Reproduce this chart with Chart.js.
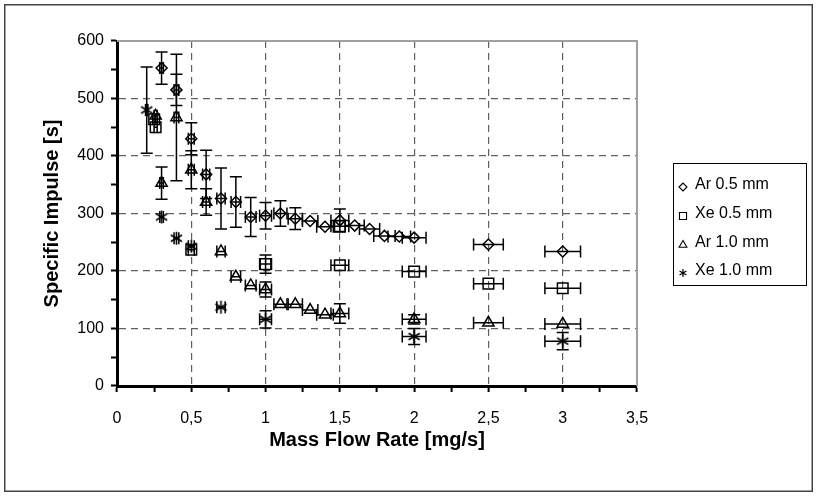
<!DOCTYPE html>
<html>
<head>
<meta charset="utf-8">
<script src="https://cdn.jsdelivr.net/npm/chart.js@4/dist/chart.umd.min.js"></script>
<style>
html,body{margin:0;padding:0;background:#fff;}
#wrap{position:relative;width:817px;height:496px;}
canvas{display:block;}
</style>
</head>
<body>
<div id="wrap"><canvas id="c" width="817" height="496"></canvas></div>
<script>
// ---------- data ----------
const seriesNames = ['Ar 0.5 mm', 'Xe 0.5 mm', 'Ar 1.0 mm', 'Xe 1.0 mm'];

const ar05X    = [0.3, 0.4, 0.5, 0.6, 0.7, 0.8, 0.9, 1.0, 1.1, 1.2, 1.3, 1.4, 1.5, 1.6, 1.7, 1.8, 1.9, 2.0, 2.5, 3.0];
const ar05Y    = [553, 515, 430, 368, 326, 320, 294, 296, 300, 291, 287, 277, 288, 279, 273, 261, 260, 258, 246, 234];
const ar05YErr = [28, 27, 28, 42, 53, 44, 34, 23, 22, 19, 0, 0, 20, 0, 0, 0, 0, 0, 0, 0];

const xe05X    = [0.25, 0.26, 0.5, 1.0, 1.5, 1.5, 2.0, 2.5, 3.0];
const xe05Y    = [464, 450, 237, 212, 278, 210, 199, 178, 170];
const xe05YErr = [0, 0, 0, 16, 0, 0, 0, 0, 0];

const ar10X    = [0.26, 0.3, 0.4, 0.5, 0.6, 0.7, 0.8, 0.9, 1.0, 1.1, 1.2, 1.3, 1.4, 1.5, 2.0, 2.5, 3.0];
const ar10Y    = [470, 353, 467, 376, 320, 234, 190, 175, 168, 142, 142, 132, 124, 126, 116, 110, 108];
const ar10YErr = [0, 28, 110, 33, 23, 0, 0, 0, 13, 0, 0, 0, 0, 17, 8, 0, 0];

const xe10X    = [0.2, 0.3, 0.4, 0.5, 0.7, 1.0, 2.0, 3.0];
const xe10Y    = [480, 294, 257, 243, 137, 116, 86, 78];
const xe10YErr = [75, 0, 0, 0, 0, 15, 14, 15];

const X_REL_ERR = 0.04; // horizontal error bars: +-4 % of the mass flow rate

const xTickValues = [0, 0.5, 1, 1.5, 2, 2.5, 3, 3.5];
const xTickLabels = ['0', '0,5', '1', '1,5', '2', '2,5', '3', '3,5'];
const yTickValues = [0, 100, 200, 300, 400, 500, 600];
const yTickLabels = ['0', '100', '200', '300', '400', '500', '600'];

const xTitle = 'Mass Flow Rate [mg/s]';
const yTitle = 'Specific Impulse [s]';

// ---------- helpers ----------
function pts(xs, ys) { return xs.map((x, i) => ({x: x, y: ys[i]})); }

function makeAsterisk(size, lw) {
  const c = document.createElement('canvas');
  c.width = size; c.height = size;
  const g = c.getContext('2d');
  const m = size / 2, r = size / 2 - 1;
  g.strokeStyle = '#000'; g.lineWidth = lw; g.lineCap = 'butt';
  g.beginPath();
  g.moveTo(m, m - r); g.lineTo(m, m + r);
  const dx = r * Math.cos(Math.PI / 6), dy = r * Math.sin(Math.PI / 6);
  g.moveTo(m - dx, m - dy); g.lineTo(m + dx, m + dy);
  g.moveTo(m - dx, m + dy); g.lineTo(m + dx, m - dy);
  g.stroke();
  return c;
}
const asteriskBig = makeAsterisk(15, 1.6);
const asteriskSmall = makeAsterisk(10, 1.2);

const FONT = "'Liberation Sans', Arial, sans-serif";

function nearIn(v, arr) {
  for (let i = 0; i < arr.length; i++) if (Math.abs(arr[i] - v) < 1e-6) return i;
  return -1;
}

// ---------- plugins ----------
const errorBars = {
  id: 'errorBars',
  afterDatasetsDraw(chart) {
    const ctx = chart.ctx, xs = chart.scales.x, ys = chart.scales.y;
    const CAP = 6;
    ctx.save();
    ctx.strokeStyle = '#000';
    ctx.lineWidth = 1.5;
    chart.data.datasets.forEach(ds => {
      ds.data.forEach((p, i) => {
        const px = xs.getPixelForValue(p.x), py = ys.getPixelForValue(p.y);
        const ex = p.x * X_REL_ERR;
        const x1 = xs.getPixelForValue(p.x - ex), x2 = xs.getPixelForValue(p.x + ex);
        ctx.beginPath();
        ctx.moveTo(x1, py); ctx.lineTo(x2, py);
        ctx.moveTo(x1, py - CAP); ctx.lineTo(x1, py + CAP);
        ctx.moveTo(x2, py - CAP); ctx.lineTo(x2, py + CAP);
        ctx.stroke();
        const ey = ds.yErr[i];
        if (ey > 0) {
          const y1 = ys.getPixelForValue(p.y + ey), y2 = ys.getPixelForValue(p.y - ey);
          ctx.beginPath();
          ctx.moveTo(px, y1); ctx.lineTo(px, y2);
          ctx.moveTo(px - CAP, y1); ctx.lineTo(px + CAP, y1);
          ctx.moveTo(px - CAP, y2); ctx.lineTo(px + CAP, y2);
          ctx.stroke();
        }
      });
    });
    ctx.restore();
  }
};

const frame = {
  id: 'frame',
  beforeDatasetsDraw(chart) {
    const {ctx, chartArea: a} = chart;
    ctx.save();
    ctx.strokeStyle = '#a0a0a0';
    ctx.lineWidth = 2;
    ctx.beginPath();
    ctx.moveTo(a.left, a.top); ctx.lineTo(a.right, a.top); ctx.lineTo(a.right, a.bottom);
    ctx.stroke();
    ctx.restore();
  },
  afterDraw(chart) {
    const ctx = chart.ctx;
    ctx.save();
    ctx.strokeStyle = '#444';
    ctx.lineWidth = 1.5;
    ctx.strokeRect(4.75, 4.75, 807.5, 486.5);
    ctx.restore();
  }
};

const boxLegend = {
  id: 'boxLegend',
  afterDraw(chart) {
    const ctx = chart.ctx;
    const L = 673.5, T = 163.5, W = 133, H = 122;
    ctx.save();
    ctx.fillStyle = '#fff';
    ctx.fillRect(L, T, W, H);
    ctx.strokeStyle = '#000';
    ctx.lineWidth = 1;
    ctx.strokeRect(L, T, W, H);
    const rowY = [185, 214, 243, 271];
    chart.data.datasets.forEach((ds, i) => {
      const y = rowY[i], mx = 683;
      ctx.strokeStyle = '#000';
      ctx.fillStyle = 'rgba(0,0,0,0)';
      ctx.lineWidth = 1.1;
      if (ds.pointStyle instanceof HTMLCanvasElement) {
        ctx.drawImage(asteriskSmall, mx - 5, y - 5 + 2);
      } else {
        Chart.helpers.drawPoint(ctx, {pointStyle: ds.pointStyle, radius: ds.legendRadius, rotation: 0, borderWidth: 1.1}, mx, y + 2);
      }
      ctx.fillStyle = '#000';
      ctx.font = '16px ' + FONT;
      ctx.textAlign = 'left';
      ctx.textBaseline = 'middle';
      ctx.fillText(ds.label, 695, y);
    });
    ctx.restore();
  }
};

// ---------- chart ----------
const mk = (label, xs, ys, errs, style, radius, legendRadius) => ({
  label: label,
  data: pts(xs, ys),
  yErr: errs,
  pointStyle: style,
  pointRadius: radius,
  pointHoverRadius: radius,
  legendRadius: legendRadius,
  pointBorderWidth: 1.5,
  pointBorderColor: '#000',
  pointBackgroundColor: 'rgba(0,0,0,0)',
  borderColor: '#000',
  backgroundColor: 'rgba(0,0,0,0)',
  showLine: false
});

const datasets = [
  mk(seriesNames[0], ar05X, ar05Y, ar05YErr, 'rectRot', 5.5, 4),
  mk(seriesNames[1], xe05X, xe05Y, xe05YErr, 'rect', 7.5, 5),
  mk(seriesNames[2], ar10X, ar10Y, ar10YErr, 'triangle', 6.5, 4.5),
  mk(seriesNames[3], xe10X, xe10Y, xe10YErr, asteriskBig, 7, 5)
];

const GRID = '#606060';

new Chart(document.getElementById('c'), {
  type: 'scatter',
  data: {datasets: datasets},
  plugins: [frame, errorBars, boxLegend],
  options: {
    responsive: false,
    animation: false,
    devicePixelRatio: 1,
    layout: {padding: {left: 36, right: 180, top: 41, bottom: 40}},
    plugins: {legend: {display: false}, tooltip: {enabled: false}},
    scales: {
      x: {
        type: 'linear',
        min: 0, max: 3.5,
        afterFit(s) { s.height = 70; },
        ticks: {
          stepSize: 0.25, autoSkip: false, maxRotation: 0, padding: 17,
          color: '#000', font: {family: FONT, size: 16},
          callback: (v) => { const k = nearIn(v, xTickValues); return k >= 0 ? xTickLabels[k] : ''; }
        },
        grid: {
          color: (c) => { const v = c.tick ? c.tick.value : 0; return (nearIn(v, xTickValues) > 0 && v < 3.5) ? GRID : 'rgba(0,0,0,0)'; },
          lineWidth: 1.2,
          tickColor: '#000', tickLength: 6, tickWidth: 2, tickBorderDash: [1, 0]
        },
        border: {display: true, color: '#000', width: 3, dash: [7, 5]},
        title: {display: true, text: xTitle, color: '#000', font: {family: FONT, size: 20, weight: 'bold'}, padding: {top: 4, bottom: 4}}
      },
      y: {
        type: 'linear',
        min: 0, max: 600,
        afterFit(s) { s.width = 81; },
        ticks: {
          stepSize: 50, autoSkip: false, padding: 7,
          color: '#000', font: {family: FONT, size: 16},
          callback: (v) => { const k = nearIn(v, yTickValues); return k >= 0 ? yTickLabels[k] : ''; }
        },
        grid: {
          color: (c) => { const v = c.tick ? c.tick.value : 0; return (nearIn(v, yTickValues) > 0 && v < 600) ? GRID : 'rgba(0,0,0,0)'; },
          lineWidth: 1.2,
          tickColor: '#000', tickLength: 6, tickWidth: 2, tickBorderDash: [1, 0]
        },
        border: {display: true, color: '#000', width: 3, dash: [7, 5]},
        title: {display: true, text: yTitle, color: '#000', font: {family: FONT, size: 20, weight: 'bold'}, padding: {top: 4, bottom: 4}}
      }
    }
  }
});
</script>
</body>
</html>
